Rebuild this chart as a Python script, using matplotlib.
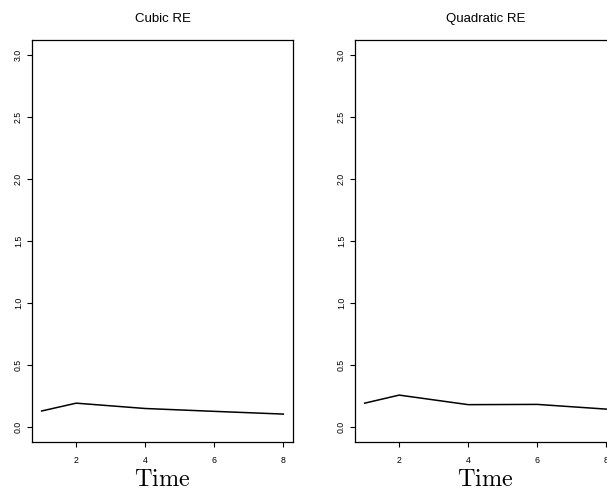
import matplotlib
matplotlib.use("Agg")
import matplotlib.pyplot as plt

# Observation times and fitted random-effect curves
time = [1, 2, 4, 6, 8]
cubic_re = [0.13, 0.193, 0.150, 0.127, 0.105]
quadratic_re = [0.193, 0.258, 0.181, 0.183, 0.145]

panel_titles = ["Cubic RE", "Quadratic RE"]
x_ticks = [2, 4, 6, 8]
y_ticks = [0.0, 0.5, 1.0, 1.5, 2.0, 2.5, 3.0]
y_range = (0.0, 3.0)

plt.rcParams["font.family"] = ["Liberation Sans", "DejaVu Sans"]
plt.rcParams["mathtext.fontset"] = "cm"

fig = plt.figure(figsize=(6.07, 4.95), dpi=100)

W, H = 607, 495
box_w = 261
lefts = [32, 355]
top, bottom = 40, 442

series = [cubic_re, quadratic_re]


def r_limits(lo, hi):
    pad = 0.04 * (hi - lo)
    return lo - pad, hi + pad


for left, title, vals in zip(lefts, panel_titles, series):
    ax = fig.add_axes([left / W, 1 - bottom / H, box_w / W, (bottom - top) / H])
    ax.plot(time, vals, color="black", lw=1.1)
    ax.set_xlim(*r_limits(min(time), max(time)))
    ax.set_ylim(*r_limits(*y_range))
    ax.set_xticks(x_ticks)
    ax.set_xticklabels([str(t) for t in x_ticks])
    ax.set_yticks(y_ticks)
    ax.set_yticklabels([f"{v:.1f}" for v in y_ticks], rotation=90, va="center")
    ax.tick_params(axis="both", direction="out", length=3.6, width=0.8,
                   labelsize=6.3, colors="black")
    ax.tick_params(axis="x", pad=6.5)
    ax.tick_params(axis="y", pad=3)
    for s in ax.spines.values():
        s.set_linewidth(0.9)
        s.set_color("black")
    ax.set_title(title, fontsize=9.5, pad=13)
    ax.set_xlabel(r"$\mathrm{Time}$", fontsize=17.5, labelpad=3)

fig.savefig("out.png", dpi=100)
